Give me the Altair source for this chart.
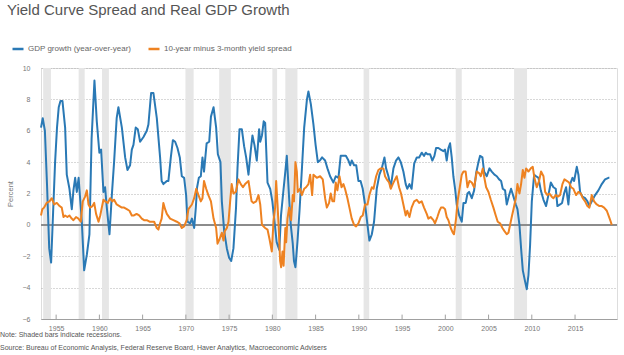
import altair as alt
import pandas as pd

TITLE = "Yield Curve Spread and Real GDP Growth"
GDP_LABEL = "GDP growth (year-over-year)"
SPREAD_LABEL = "10-year minus 3-month yield spread"
NOTE = "Note: Shaded bars indicate recessions."
SOURCE = "Source: Bureau of Economic Analysis, Federal Reserve Board, Haver Analytics, Macroeconomic Advisers"

# Recessions (NBER), decimal years
rec_start = [1953.5, 1957.6, 1960.3, 1969.95, 1973.85, 1980.0, 1981.5, 1990.55, 2001.2, 2007.95]
rec_end = [1954.4, 1958.3, 1961.1, 1970.9, 1975.2, 1980.55, 1982.9, 1991.2, 2001.9, 2009.45]

# Real GDP growth, year-over-year (%)
gdp_year = [1953.25, 1953.45, 1953.7, 1953.95, 1954.2, 1954.42, 1954.65, 1954.88, 1955.1, 1955.3,
            1955.5, 1955.73, 1956.04, 1956.23, 1956.54, 1956.81, 1957.0, 1957.2, 1957.39, 1957.6,
            1957.97, 1958.24, 1958.55, 1958.85, 1959.1, 1959.43, 1959.7, 1960.0, 1960.2, 1960.47,
            1960.66, 1960.86, 1961.17, 1961.44, 1961.7, 1962.0, 1962.2, 1962.6, 1962.98, 1963.25,
            1963.55, 1963.75, 1963.94, 1964.2, 1964.44, 1964.71, 1965.1, 1965.48, 1965.67, 1965.98,
            1966.25, 1966.64, 1967.02, 1967.2, 1967.4, 1967.8, 1967.98, 1968.26, 1968.5, 1968.76,
            1969.03, 1969.3, 1969.53, 1969.8, 1970.03, 1970.19, 1970.5, 1970.7, 1970.96, 1971.15,
            1971.3, 1971.5, 1971.73, 1971.92, 1972.1, 1972.4, 1972.7, 1972.9, 1973.2, 1973.5,
            1973.7, 1974.0, 1974.16, 1974.43, 1974.74, 1975.0, 1975.24, 1975.5, 1975.8, 1975.97,
            1976.2, 1976.47, 1976.74, 1976.97, 1977.24, 1977.5, 1977.7, 1977.93, 1978.2, 1978.47,
            1978.6, 1978.8, 1979.0, 1979.17, 1979.44, 1979.75, 1980.0, 1980.25, 1980.5, 1980.8,
            1981.0, 1981.3, 1981.5, 1981.67, 1981.94, 1982.13, 1982.36, 1982.5, 1982.67, 1982.9,
            1983.14, 1983.4, 1983.68, 1984.0, 1984.17, 1984.45, 1984.75, 1985.0, 1985.26, 1985.5,
            1985.75, 1986.1, 1986.37, 1986.68, 1987.06, 1987.33, 1987.64, 1987.9, 1988.22, 1988.5,
            1988.8, 1989.0, 1989.18, 1989.45, 1989.7, 1989.95, 1990.2, 1990.45, 1990.72, 1991.0,
            1991.22, 1991.5, 1991.76, 1992.07, 1992.38, 1992.65, 1992.96, 1993.15, 1993.42, 1993.69,
            1994.0, 1994.3, 1994.58, 1994.85, 1995.15, 1995.42, 1995.6, 1995.85, 1996.1, 1996.4,
            1996.7, 1996.97, 1997.27, 1997.54, 1997.74, 1997.93, 1998.24, 1998.5, 1998.74, 1998.93,
            1999.2, 1999.47, 1999.78, 1999.97, 2000.16, 2000.36, 2000.55, 2000.74, 2000.93, 2001.13,
            2001.32, 2001.6, 2001.9, 2002.1, 2002.36, 2002.56, 2002.75, 2003.06, 2003.33, 2003.56,
            2003.83, 2004.02, 2004.29, 2004.48, 2004.79, 2005.1, 2005.37, 2005.68, 2005.95, 2006.22,
            2006.45, 2006.64, 2006.91, 2007.1, 2007.38, 2007.6, 2007.88, 2008.15, 2008.34, 2008.57,
            2008.76, 2008.96, 2009.22, 2009.42, 2009.61, 2009.8, 2010.0, 2010.27, 2010.5, 2010.77,
            2011.04, 2011.35, 2011.65, 2011.92, 2012.2, 2012.5, 2012.77, 2012.96, 2013.27, 2013.5,
            2013.73, 2013.96, 2014.23, 2014.43, 2014.7, 2014.89, 2015.2, 2015.39, 2015.58, 2015.85,
            2016.16, 2016.43, 2016.66, 2016.93, 2017.32, 2017.7, 2018.09, 2018.47, 2018.86, 2018.97]
gdp_val = [6.2, 6.8, 6.0, 2.5, -1.5, -2.4, 0.8, 4.0, 6.2, 7.5,
           7.9, 7.9, 6.2, 3.2, 2.3, 1.0, 2.2, 3.0, 2.1, 3.0,
           0.2, -2.9, -1.9, -0.6, 5.5, 9.2, 6.6, 4.6, 4.8, 2.1,
           2.4, 1.1, -0.6, 1.9, 4.0, 6.8, 7.5, 6.2, 4.3, 3.5,
           3.8, 4.8, 5.1, 6.2, 6.1, 5.3, 5.6, 6.0, 6.4, 8.4,
           8.4, 6.8, 4.3, 2.8, 2.6, 2.8, 2.8, 4.3, 5.4, 5.3,
           4.9, 4.3, 3.1, 3.0, 1.9, 0.2, 0.1, 0.4, -0.2, 1.1,
           2.4, 3.0, 3.1, 4.3, 3.4, 5.2, 5.3, 6.9, 7.5, 6.2,
           4.5, 4.0, 1.5, -0.4, -1.5, -2.1, -2.3, -1.5, 1.1, 3.6,
           6.1, 6.1, 5.0, 4.3, 3.2, 4.7, 5.7, 5.1, 4.1, 6.1,
           5.3, 5.7, 6.6, 6.5, 2.7, 2.3, 1.5, 0.2, -1.1, -1.6,
           0.6, 2.3, 3.4, 4.4, 1.7, 0.0, -1.2, -2.3, -2.7, -1.1,
           0.9, 3.4, 6.2, 8.0, 8.5, 7.7, 6.4, 5.1, 4.0, 4.1,
           4.3, 4.1, 3.6, 3.1, 2.7, 3.1, 3.0, 4.4, 4.4, 4.4,
           4.1, 3.8, 4.1, 3.8, 3.8, 2.8, 2.8, 2.3, 1.3, 0.0,
           -1.0, -0.6, 0.2, 2.3, 3.2, 3.6, 4.3, 3.6, 3.1, 2.4,
           3.6, 4.1, 4.3, 4.0, 3.4, 2.6, 2.3, 2.6, 2.3, 3.9,
           4.3, 4.3, 4.6, 4.4, 4.6, 4.5, 4.5, 4.1, 4.4, 4.9,
           4.9, 4.8, 4.7, 4.8, 4.1, 4.9, 5.2, 4.3, 3.1, 2.3,
           1.3, 0.6, 0.2, 1.4, 1.4, 2.0, 2.1, 1.7, 2.2, 3.3,
           4.0, 4.4, 4.3, 3.4, 3.1, 3.6, 3.4, 3.2, 3.1, 2.9,
           2.8, 2.3, 2.2, 1.3, 1.9, 2.3, 1.8, 1.3, 1.0, 0.0,
           -1.5, -2.9, -3.6, -4.1, -3.2, -1.3, 1.5, 3.2, 3.1, 3.0,
           2.2, 1.6, 1.2, 1.9, 2.7, 2.4, 2.3, 1.2, 1.3, 1.4,
           2.0, 2.4, 1.3, 2.6, 3.0, 2.8, 3.7, 3.2, 2.1, 1.8,
           1.7, 1.5, 1.2, 1.5, 1.9, 2.2, 2.6, 2.9, 3.0, 3.0]

# 10-year minus 3-month Treasury spread (percentage points)
spread_year = [1953.25, 1953.4, 1953.6, 1953.9, 1954.23, 1954.5, 1954.77, 1955.08, 1955.4, 1955.65,
               1955.85, 1956.04, 1956.3, 1956.54, 1956.8, 1957.0, 1957.3, 1957.58, 1957.85, 1958.08,
               1958.35, 1958.55, 1958.74, 1958.93, 1959.2, 1959.4, 1959.62, 1959.9, 1960.1, 1960.28,
               1960.47, 1960.66, 1960.97, 1961.24, 1961.5, 1961.7, 1962.0, 1962.32, 1962.6, 1962.86,
               1963.17, 1963.48, 1963.75, 1964.0, 1964.3, 1964.6, 1964.9, 1965.17, 1965.48, 1965.8,
               1966.06, 1966.33, 1966.64, 1966.83, 1967.02, 1967.2, 1967.4, 1967.6, 1967.8, 1968.18,
               1968.56, 1968.95, 1969.26, 1969.53, 1969.8, 1970.1, 1970.3, 1970.7, 1970.96, 1971.2,
               1971.46, 1971.73, 1971.92, 1972.1, 1972.35, 1972.6, 1972.9, 1973.2, 1973.5, 1973.66,
               1973.9, 1974.16, 1974.35, 1974.5, 1974.74, 1974.93, 1975.12, 1975.3, 1975.5, 1975.78,
               1976.08, 1976.35, 1976.6, 1976.85, 1977.24, 1977.43, 1977.6, 1977.82, 1978.13, 1978.4,
               1978.6, 1978.8, 1979.17, 1979.44, 1979.67, 1979.94, 1980.13, 1980.32, 1980.44, 1980.6,
               1980.75, 1980.9, 1981.02, 1981.17, 1981.3, 1981.5, 1981.6, 1981.75, 1981.94, 1982.17,
               1982.36, 1982.5, 1982.67, 1982.83, 1982.94, 1983.2, 1983.4, 1983.68, 1983.9, 1984.17,
               1984.37, 1984.6, 1984.75, 1984.95, 1985.14, 1985.52, 1985.83, 1986.1, 1986.3, 1986.56,
               1986.75, 1986.95, 1987.14, 1987.33, 1987.52, 1987.76, 1988.0, 1988.22, 1988.4, 1988.68,
               1988.91, 1989.18, 1989.45, 1989.68, 1989.95, 1990.22, 1990.45, 1990.72, 1991.0, 1991.22,
               1991.5, 1991.7, 1992.0, 1992.26, 1992.53, 1992.84, 1993.03, 1993.23, 1993.5, 1993.69,
               1993.92, 1994.19, 1994.38, 1994.65, 1994.88, 1995.15, 1995.42, 1995.6, 1995.85, 1996.1,
               1996.4, 1996.7, 1996.97, 1997.27, 1997.54, 1997.85, 1998.04, 1998.3, 1998.62, 1998.8,
               1999.08, 1999.32, 1999.5, 1999.78, 1999.97, 2000.16, 2000.36, 2000.63, 2000.86, 2001.0,
               2001.24, 2001.44, 2001.7, 2001.9, 2002.1, 2002.35, 2002.56, 2002.79, 2003.06, 2003.33,
               2003.64, 2003.9, 2004.1, 2004.33, 2004.48, 2004.72, 2004.99, 2005.26, 2005.56, 2005.83,
               2006.06, 2006.33, 2006.6, 2006.84, 2007.1, 2007.3, 2007.49, 2007.68, 2007.88, 2008.15,
               2008.34, 2008.57, 2008.76, 2008.96, 2009.15, 2009.34, 2009.61, 2009.88, 2010.11, 2010.3,
               2010.57, 2010.84, 2011.07, 2011.35, 2011.54, 2011.8, 2012.04, 2012.3, 2012.5, 2012.77,
               2013.0, 2013.27, 2013.54, 2013.77, 2014.04, 2014.31, 2014.54, 2014.81, 2015.12, 2015.39,
               2015.66, 2015.89, 2016.16, 2016.43, 2016.66, 2016.93, 2017.2, 2017.51, 2017.82, 2018.09,
               2018.36, 2018.67, 2018.94, 2019.13, 2019.24]
spread_val = [0.6, 1.0, 1.1, 1.4, 1.5, 1.7, 1.3, 1.4, 1.2, 1.1,
              0.5, 0.6, 0.5, 0.6, 0.4, 0.3, 0.5, 0.4, 0.2, 1.5,
              1.8, 2.2, 1.3, 1.1, 1.2, 1.4, 0.7, 0.2, 0.6, 1.1,
              1.6, 1.5, 1.4, 1.7, 1.5, 1.6, 1.3, 1.2, 1.1, 1.1,
              1.0, 0.9, 0.6, 0.6, 0.7, 0.6, 0.4, 0.3, 0.3, 0.2,
              0.2, 0.2, -0.2, -0.3, 0.1, 0.4, 1.4, 1.0, 0.7, 0.4,
              0.3, 0.2, 0.1, -0.2, -0.1, 0.3, 1.0, 1.3, 1.7, 2.3,
              1.9, 1.5, 1.7, 2.8, 2.3, 1.9, 1.5, 0.4, -0.2, -1.2,
              -0.9, -0.5, -1.0, -0.4, -0.2, 0.2, 1.5, 2.6, 2.0, 2.1,
              2.9, 2.6, 2.4, 2.6, 2.8, 2.1, 1.5, 1.4, 1.5, 1.9,
              1.3, 0.0, -0.2, -0.3, -0.9, -1.7, 0.2, 1.1, 2.8, 1.3,
              -0.4, -2.3, -2.7, -1.7, -2.6, -0.2, -1.1, 0.4, 1.1, 0.3,
              1.9, 1.5, 4.0, 3.4, 2.1, 2.3, 1.9, 2.3, 2.4, 2.6,
              3.2, 1.9, 3.2, 3.1, 3.0, 3.1, 2.9, 1.7, 1.1, 1.4,
              2.0, 1.5, 1.5, 2.7, 2.2, 3.1, 2.4, 2.6, 2.3, 1.7,
              1.1, 0.4, 0.0, -0.1, 0.1, 0.5, 0.6, 1.3, 1.3, 1.9,
              2.4, 2.3, 3.1, 3.5, 3.6, 3.6, 3.1, 2.9, 2.7, 2.3,
              2.6, 2.9, 3.1, 2.4, 2.0, 1.3, 0.6, 0.9, 0.5, 1.1,
              1.5, 1.6, 1.4, 1.5, 1.1, 0.7, 0.4, 0.5, 0.3, 0.1,
              0.5, 0.9, 1.1, 1.1, 1.0, 0.5, 0.3, -0.2, -0.5, -0.6,
              0.4, 1.6, 2.5, 3.2, 3.4, 3.4, 2.4, 2.8, 2.7, 2.4,
              3.4, 3.3, 3.1, 3.6, 3.1, 2.4, 2.1, 1.6, 1.1, 0.6,
              0.2, 0.1, -0.2, -0.4, -0.6, -0.5, 0.0, 0.5, 1.0, 1.7,
              2.6, 2.0, 2.6, 3.5, 3.0, 3.6, 3.4, 3.6, 3.7, 3.0,
              2.4, 2.8, 3.4, 3.1, 2.1, 1.9, 2.0, 1.8, 1.7, 1.9,
              1.8, 1.9, 2.6, 2.9, 2.8, 2.7, 2.4, 2.3, 1.9, 2.1,
              2.0, 1.7, 1.5, 1.2, 1.1, 1.9, 1.5, 1.3, 1.2, 1.2,
              1.1, 0.9, 0.5, 0.2, 0.0]

x_ticks = [1955, 1960, 1965, 1970, 1975, 1980, 1985, 1990, 1995, 2000, 2005, 2010, 2015]
y_ticks = [-6, -4, -2, 0, 2, 4, 6, 8, 10]

series_names = [GDP_LABEL, SPREAD_LABEL]
series_colors = ["#2a79b5", "#ee8221"]

lines_df = pd.concat([
    pd.DataFrame({"year": gdp_year, "value": gdp_val, "series": GDP_LABEL, "order": 0}),
    pd.DataFrame({"year": spread_year, "value": spread_val, "series": SPREAD_LABEL, "order": 1}),
])
rec_df = pd.DataFrame({"start": rec_start, "end": rec_end})
tick_df = pd.DataFrame({"year": x_ticks})

FONT = "Liberation Sans"
W, H = 576, 251

x_scale = alt.Scale(domain=[1953.25, 2019.85], nice=False, zero=False)
y_scale = alt.Scale(domain=[-6, 10], nice=False)
x_axis = alt.Axis(values=x_ticks, format="d", title=None, grid=False, ticks=False,
                  labelPadding=5, domainColor="#a0a0a0", labelFontSize=7, labelColor="#777",
                  labelFont=FONT)
y_axis = alt.Axis(values=y_ticks, title="Percent", grid=True, gridDash=[1, 2], gridColor="#b0b0b0",
                  domain=False, ticks=False, labelPadding=11, labelFontSize=7, labelColor="#777",
                  labelFont=FONT, titleFont=FONT, titleFontSize=7.5, titleFontWeight="normal",
                  titleColor="#777", titlePadding=8)

rects = alt.Chart(rec_df).mark_rect(color="#e6e6e6").encode(
    x=alt.X("start:Q", scale=x_scale, axis=x_axis),
    x2="end:Q",
    y=alt.YDatum(10, type="quantitative", scale=y_scale, axis=y_axis),
    y2=alt.Y2Datum(-6),
)

zero = alt.Chart(rec_df).mark_rule(color="#8c8c8c", strokeWidth=1.5).encode(
    y=alt.YDatum(0, type="quantitative", scale=y_scale, axis=y_axis),
)

ticks = alt.Chart(tick_df).mark_rule(color="#a0a0a0", strokeWidth=1).encode(
    x=alt.X("year:Q", scale=x_scale, axis=x_axis),
    y=alt.YDatum(-6, type="quantitative", scale=y_scale, axis=y_axis),
    y2=alt.Y2Datum(-5.72),
)

lines = alt.Chart(lines_df).mark_line(strokeWidth=2, strokeJoin="round").encode(
    x=alt.X("year:Q", scale=x_scale, axis=x_axis),
    y=alt.Y("value:Q", scale=y_scale, axis=y_axis),
    color=alt.Color("series:N", sort=series_names,
                    scale=alt.Scale(domain=series_names, range=series_colors),
                    legend=alt.Legend(title=None, orient="none", direction="horizontal",
                                      legendX=-30, legendY=-26, symbolType="stroke",
                                      symbolStrokeWidth=2.5, symbolSize=121, labelFontSize=8,
                                      labelFont=FONT, labelColor="#666", labelOffset=3,
                                      columnPadding=11, padding=0)),
    order="order:Q",
    detail="series:N",
)

note = alt.Chart(pd.DataFrame({"t": [NOTE]})).mark_text(
    align="left", baseline="middle", font=FONT, fontSize=7, color="#555"
).encode(text="t:N", x=alt.value(-41), y=alt.value(H + 16))

source = alt.Chart(pd.DataFrame({"t": [SOURCE]})).mark_text(
    align="left", baseline="middle", font=FONT, fontSize=7, color="#555"
).encode(text="t:N", x=alt.value(-41), y=alt.value(H + 28.5))

chart = alt.layer(rects, zero, ticks, lines, note, source).properties(
    width=W, height=H,
    autosize=alt.AutoSizeParams(type="none"),
    padding={"left": 41, "top": 68, "right": 7, "bottom": 36},
    title=alt.TitleParams(TITLE, anchor="start", frame="group", dx=-34, offset=24,
                          font=FONT, fontSize=15, fontWeight="normal", color="#555"),
).configure_view(stroke=None).configure(background="white")

chart.save("out.html", embed_options={"renderer": "svg", "actions": False})
